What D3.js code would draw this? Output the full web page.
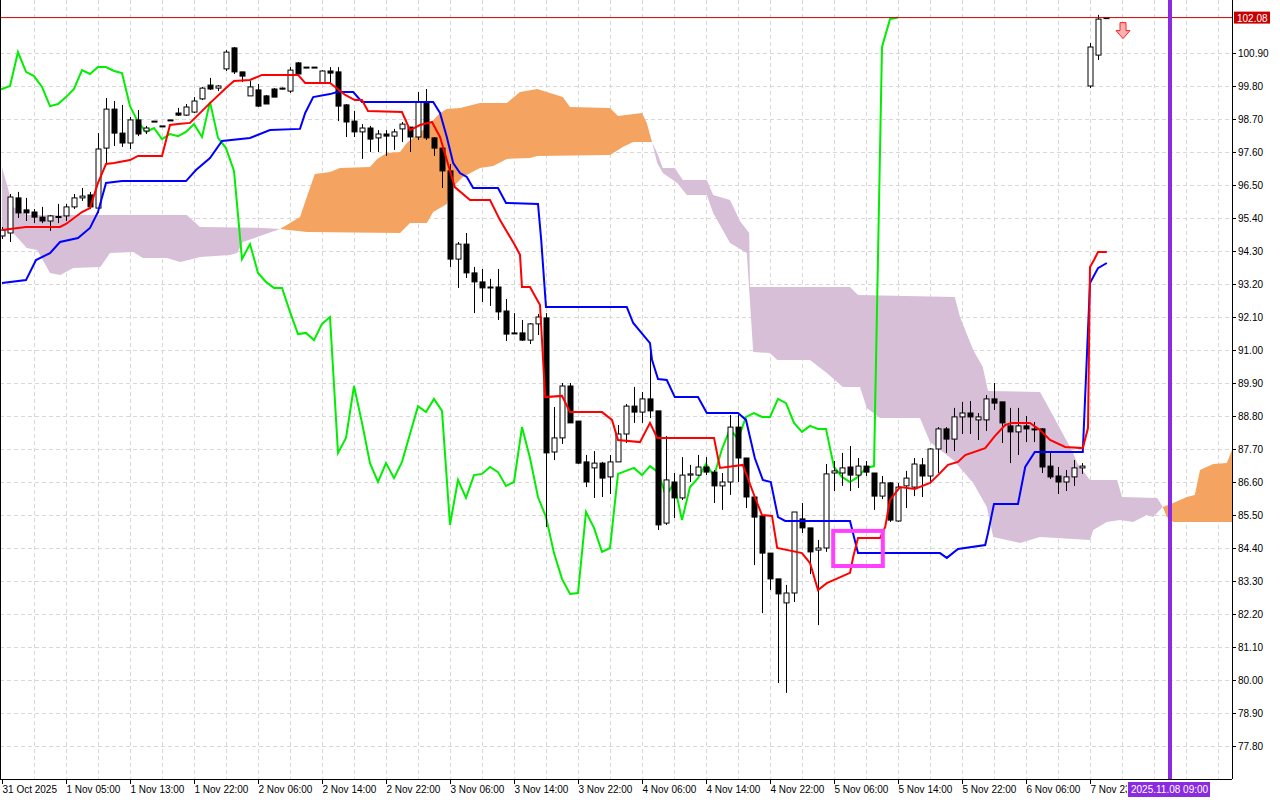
<!DOCTYPE html>
<html>
<head>
<meta charset="utf-8">
<script src="https://cdn.jsdelivr.net/npm/d3@7"></script>
<style>
body { margin: 0; background: #fff; }
svg { display: block; font-family: "Liberation Sans", sans-serif; font-size: 10px; }
</style>
</head>
<body>
<svg id="chart" width="1280" height="800"></svg>
<script>
// candles, bar index 0..138
var opens = [94.8,94.9,96.07,95.67,95.6,95.43,95.3,95.45,95.47,95.77,96.07,96.17,95.73,97.73,99.03,98.23,97.9,98.67,98.3,98.63,98.47,98.67,98.9,98.83,98.93,99.37,99.83,99.73,100.37,101.07,100.27,99.47,99.67,99.47,99.7,99.73,99.63,100.57,100.43,100.43,99.9,100.3,100.27,99.17,98.63,98.27,98.4,98.07,98.2,98.13,98.37,98.43,98.1,99.27,98.07,97.73,96.97,94.03,94.53,93.57,93.27,93.1,93.1,92.3,91.57,91.57,91.33,91.87,92.07,87.6,88.07,89.8,88.63,87.27,87.07,87.23,86.77,87.27,88.2,89.13,88.93,89.37,88.97,85.23,86.6,86.07,86.83,86.83,87.1,86.93,86.47,86.6,88.43,87.4,86.1,85.47,84.23,83.37,82.57,82.9,85.37,85.07,84.33,84.4,86.9,86.9,87.1,86.83,87.13,86.9,86.13,86.57,85.3,86.47,86.43,87.17,86.8,87.7,88.37,88.03,88.77,88.9,88.67,88.67,89.37,89.27,88.47,88.27,88.47,88.37,88.37,87.13,86.8,86.6,86.77,87.07,99.8,100.83,102.05];
var highs = [95.1,96.2,96.27,96.07,95.7,95.77,95.5,95.87,95.87,96.2,96.4,96.27,98.23,99.4,99.3,99.17,98.77,99.0,98.47,98.63,98.47,98.67,99.07,99.2,99.43,99.77,100.07,99.83,101.0,101.1,100.27,99.97,99.87,99.5,99.73,99.75,100.43,100.6,100.43,100.43,100.33,100.43,100.43,99.2,98.97,98.53,98.47,98.33,98.33,98.37,98.6,98.43,99.6,99.7,98.1,97.9,97.2,94.6,94.9,93.77,93.7,93.37,93.7,92.7,92.23,92.0,91.9,92.2,92.23,89.1,89.9,89.9,88.63,87.5,87.63,87.27,87.5,88.5,89.2,89.77,89.6,91.07,88.97,88.13,86.9,87.43,87.17,87.5,87.43,87.0,86.9,88.83,88.83,87.4,86.17,85.47,84.23,83.37,83.17,85.6,85.9,85.07,84.67,87.2,87.3,87.57,87.8,87.4,87.3,86.9,86.8,86.6,86.57,86.97,87.4,87.4,87.73,88.43,88.43,89.07,89.27,89.3,88.9,89.5,89.9,89.27,89.07,89.07,88.8,88.6,88.4,87.57,87.1,87.0,87.33,87.23,101.23,102.17,102.1];
var lows = [94.7,94.6,95.4,95.3,95.23,95.23,94.97,95.23,95.3,95.7,95.97,95.7,95.57,97.23,97.8,97.77,97.7,98.13,98.2,98.63,98.47,98.67,98.8,98.8,98.9,99.33,99.67,99.63,100.3,100.2,99.93,99.47,99.1,99.2,99.43,99.68,99.57,100.17,100.43,100.43,99.87,99.9,98.63,98.1,98.1,97.37,97.6,97.6,97.47,97.67,97.93,97.6,98.0,98.0,97.47,96.4,93.77,93.07,93.4,92.23,92.6,92.47,92.0,91.3,91.53,91.3,91.2,91.5,85.1,87.33,87.87,88.57,87.2,86.43,86.07,86.1,86.2,87.27,87.9,88.57,88.57,88.73,85.0,85.17,85.4,86.0,86.6,86.8,86.83,85.9,85.67,86.17,86.6,85.73,83.83,82.23,83.0,79.9,79.57,82.6,84.9,83.53,81.83,84.27,86.3,86.47,86.3,86.4,86.8,85.67,86.03,85.27,85.27,85.73,86.13,86.1,86.6,86.9,87.57,87.63,88.2,88.2,88.0,88.3,89.0,87.9,87.23,87.5,87.93,87.93,86.9,86.7,86.2,86.3,86.47,86.87,99.73,100.67,102.03];
var closes = [95.0,96.1,95.57,95.57,95.43,95.3,95.47,95.45,95.77,96.07,96.13,95.77,97.7,99.03,98.23,97.9,98.67,98.2,98.4,98.63,98.47,98.67,98.83,99.1,99.3,99.73,99.7,99.8,100.93,100.27,100.13,99.77,99.13,99.2,99.43,99.7,100.33,100.2,100.43,100.43,100.3,100.23,99.13,98.6,98.27,98.4,98.03,98.2,98.13,98.27,98.53,98.1,99.27,98.07,97.73,96.97,94.03,94.53,93.57,93.27,93.07,93.07,92.27,91.53,91.57,91.33,91.87,92.1,87.57,88.07,89.8,88.57,87.23,86.6,87.23,86.73,87.27,88.2,89.13,88.93,89.37,88.97,85.17,86.67,86.07,86.83,86.87,87.1,86.93,86.47,86.6,88.43,87.4,86.1,85.43,84.23,83.37,82.87,82.9,85.6,85.07,84.27,84.4,86.87,86.97,87.07,86.83,87.13,86.93,86.13,86.57,85.33,86.43,86.73,87.2,86.8,87.7,88.37,88.03,88.77,88.9,88.77,88.77,89.37,89.23,88.57,88.27,88.47,88.37,88.37,87.1,86.77,86.6,86.77,87.07,87.13,101.1,102.03,102.08];

// Tenkan-sen [bar, price]
var tenkan = [[0,95.0],[3,95.1],[7.25,95.1],[8,95.2],[10,95.6],[11,95.73],[12,96.57],[13,97.2],[14,97.23],[16,97.33],[17,97.47],[20,97.47],[21,98.5],[22,98.53],[23.5,98.57],[26,99.23],[28,99.73],[29,99.97],[31,100.0],[32.5,100.17],[37,100.17],[37.9,99.9],[41,99.9],[42.9,99.5],[44.1,99.33],[45,99.33],[45.75,98.97],[50,98.93],[51,98.33],[52.25,98.5],[53.75,98.6],[54.75,98.1],[56.6,96.43],[58.5,96.0],[61,96.0],[62.25,95.33],[64.1,94.5],[64.75,94.17],[65,93.1],[66,93.1],[67.25,92.5],[67.9,89.43],[70,89.47],[71,88.93],[75,88.93],[76.25,88.67],[77,88.0],[79.75,87.93],[81,88.57],[81.9,88.07],[89,88.07],[89.75,87.07],[92.6,87.17],[94.1,86.1],[95,85.5],[96.25,85.47],[96.9,84.4],[100,84.23],[101,83.9],[102,83.0],[103.1,83.23],[106,83.57],[106.4,84.1],[107,84.73],[109.75,84.73],[110.4,85.1],[111,86.0],[112.25,86.43],[114.1,86.37],[116,86.57],[117,86.83],[118.25,87.17],[119.5,87.27],[120.4,87.5],[122.9,87.73],[124.1,88.13],[125.4,88.5],[126.25,88.57],[128.5,88.57],[129.75,88.33],[131,88.0],[132.9,87.77],[135.1,87.73],[135.75,88.4],[136,93.77],[136.5,94.0],[137,94.27],[138.1,94.27]];
// Kijun-sen [bar, price]
var kijun = [[0,93.23],[3,93.33],[4.25,94.0],[6,94.23],[7.25,94.6],[9.5,94.73],[11,95.07],[12,95.6],[13,96.57],[15,96.63],[23,96.63],[24.25,97.0],[26,97.4],[27.5,97.97],[31,98.07],[33.5,98.33],[37.25,98.37],[37.9,98.9],[38.9,99.43],[41,99.53],[41.9,99.6],[43.9,99.6],[45,99.27],[53.9,99.27],[54.75,98.9],[55.6,98.1],[56.4,97.23],[57.25,96.9],[58.1,96.77],[58.9,96.4],[62,96.4],[63,95.9],[67,95.87],[67.4,94.67],[68,92.43],[78.1,92.43],[78.9,91.9],[81,91.23],[81.25,90.67],[82,90.03],[83.1,90.0],[84.1,89.43],[87,89.43],[88.1,88.9],[92,88.9],[93,88.67],[94.1,87.4],[95.1,86.67],[96.1,86.6],[97,85.43],[97.9,85.3],[106,85.3],[107,84.23],[117.25,84.23],[118.1,84.07],[119.5,84.37],[122.9,84.5],[123.25,84.9],[124,85.87],[127,85.87],[127.9,87.1],[129.1,87.6],[135.1,87.6],[136,93.23],[137,93.73],[138.1,93.9]];
// Senkou span A / B (already shifted forward)
var spanA = [[0,95.0],[1.4,94.9],[3.1,94.4],[4.4,94.33],[6,93.57],[7.3,93.5],[8.9,93.73],[12.3,93.77],[13.5,94.23],[16.4,94.27],[17.6,94.07],[20.6,94.07],[22.3,93.93],[24.8,94.1],[28.5,94.17],[29.4,94.23],[30.1,94.6],[32.6,94.83],[34.75,95.03],[37.25,95.43],[38.1,96.1],[39.1,96.87],[41,96.93],[42.25,97.07],[46,97.1],[46.9,97.37],[48.1,97.57],[49.75,97.6],[50.6,97.9],[53.1,98.43],[54.75,98.9],[55.6,99.03],[57.25,99.07],[59.75,99.23],[63.1,99.23],[64.75,99.6],[66.9,99.7],[68.5,99.57],[70.1,99.43],[71,99.1],[76,99.07],[77,98.8],[80,98.9],[80.6,98.57],[81.25,97.93],[81.9,97.23],[82.6,96.9],[84.4,96.57],[85.6,96.17],[88.1,96.17],[88.9,95.57],[91,94.57],[93.1,94.23],[93.9,90.93],[96,90.9],[96.9,90.67],[101,90.67],[103.1,90.23],[105.1,89.77],[107.25,89.77],[108.1,89.07],[109.75,88.73],[114.75,88.73],[116,87.93],[118.9,87.33],[121.4,86.57],[123.1,85.77],[123.9,84.77],[127.25,84.57],[129.75,84.77],[136,84.67],[136.4,85.0],[138.1,85.27],[139.75,85.33],[141.4,85.27],[143.1,85.5],[143.9,85.43],[145.1,85.77],[146.4,85.9],[148.1,86.1],[149.1,86.17],[149.75,87.0],[151.4,87.2],[153.1,87.23],[153.75,87.67],[156,87.67]];
var spanB = [[0,97.1],[1.4,95.77],[3.1,95.5],[23.1,95.5],[24.75,95.1],[32.6,95.07],[34.75,95.03],[38.1,94.93],[49.75,94.9],[51,95.23],[53.1,95.23],[53.9,95.6],[55.6,95.87],[56,96.33],[57.6,96.77],[59.75,97.07],[61.4,97.13],[63.1,97.37],[66,97.4],[66.9,97.47],[76,97.5],[77.6,97.77],[78.9,97.93],[81.25,97.93],[81.9,97.57],[82.6,97.07],[84.1,97.07],[85.1,96.67],[88.1,96.67],[88.9,96.17],[91,96.0],[92.25,95.3],[93.4,94.9],[93.5,93.1],[106,93.1],[107,92.83],[119.1,92.77],[119.75,92.1],[121.4,91.0],[122.6,90.43],[123.25,89.63],[129.75,89.6],[131,89.0],[133.9,87.57],[134.4,87.23],[136,86.67],[139.4,86.67],[140,86.1],[144.4,86.07],[145.1,85.77],[145.6,85.43],[146.4,85.27],[156,85.27]];
// cloud sections between crossings: [from, to, A above B]
var cloudParts = [[0,34.75,false],[34.75,81.25,true],[81.25,145.1,false],[145.1,156,true]];

var yTicks = [100.90,99.80,98.70,97.60,96.50,95.40,94.30,93.20,92.10,91.00,89.90,88.80,87.70,86.60,85.50,84.40,83.30,82.20,81.10,80.00,78.90,77.80];
var xLabels = ["31 Oct 2025","1 Nov 05:00","1 Nov 13:00","1 Nov 22:00","2 Nov 06:00","2 Nov 14:00","2 Nov 22:00","3 Nov 06:00","3 Nov 14:00","3 Nov 22:00","4 Nov 06:00","4 Nov 14:00","4 Nov 22:00","5 Nov 06:00","5 Nov 14:00","5 Nov 22:00","6 Nov 06:00","7 Nov 23:00"];
var lastPrice = 102.08;
var markerBar = 146, markerLabel = "2025.11.08 09:00";
var boxBars = [103.9, 110.1], boxPrices = [84.97, 83.8];

var W = 1280, H = 800, plotR = 1232, plotB = 779;
var svg = d3.select('#chart');
var x = d3.scaleLinear().domain([0, 146]).range([2, 1170]);
var y = d3.scaleLinear().domain([77.8, 100.9]).range([746, 53]);
var mx = x(markerBar);

svg.append('clipPath').attr('id', 'clip').append('rect').attr('x', 1).attr('y', 0).attr('width', plotR - 1).attr('height', plotB);
svg.append('clipPath').attr('id', 'lblclip').append('rect').attr('x', 0).attr('y', plotB).attr('width', mx - 43).attr('height', 21);
var plot = svg.append('g').attr('clip-path', 'url(#clip)');

// grid
plot.selectAll('.hg').data(yTicks).enter().append('line')
    .attr('x1', 0).attr('x2', plotR).attr('y1', function (d) { return y(d) + 0.5; }).attr('y2', function (d) { return y(d) + 0.5; })
    .attr('stroke', '#d8d8d8').attr('stroke-dasharray', '4,3');
plot.selectAll('.vg').data(d3.range(4, 160, 4)).enter().append('line')
    .attr('y1', 0).attr('y2', plotB).attr('x1', function (d) { return Math.round(x(d)) + 0.5; }).attr('x2', function (d) { return Math.round(x(d)) + 0.5; })
    .attr('stroke', '#d8d8d8').attr('stroke-dasharray', '4,3');

// cloud
cloudParts.forEach(function (p) {
    var a = spanA.filter(function (d) { return d[0] >= p[0] && d[0] <= p[1]; });
    var b = spanB.filter(function (d) { return d[0] >= p[0] && d[0] <= p[1]; }).reverse();
    var pts = a.concat(b).map(function (d) { return [x(d[0]), y(d[1])]; });
    plot.append('path').attr('d', d3.line()(pts) + 'Z')
        .attr('fill', p[2] ? '#f4a460' : '#d8bfd8');
});

var line = d3.line().x(function (d) { return x(d[0]); }).y(function (d) { return y(d[1]); });

// chikou = closes shifted back 26 bars
var chikou = closes.map(function (c, i) { return [i - 26, c]; }).filter(function (d) { return d[0] >= -1; });
plot.append('path').attr('d', line(chikou)).attr('fill', 'none').attr('stroke', '#00ee00').attr('stroke-width', 2);

// candles
var bars = plot.selectAll('.c').data(closes).enter().append('g');
bars.append('line')
    .attr('x1', function (d, i) { return Math.round(x(i)) + 0.5; }).attr('x2', function (d, i) { return Math.round(x(i)) + 0.5; })
    .attr('y1', function (d, i) { return y(highs[i]); }).attr('y2', function (d, i) { return y(lows[i]); })
    .attr('stroke', '#000');
bars.append('rect')
    .attr('x', function (d, i) { return Math.round(x(i)) - 2; })
    .attr('width', 5)
    .attr('y', function (d, i) { return y(Math.max(d, opens[i])); })
    .attr('height', function (d, i) { return Math.max(1, Math.abs(y(d) - y(opens[i]))); })
    .attr('fill', function (d, i) { return d >= opens[i] ? '#fff' : '#000'; })
    .attr('stroke', '#000');

plot.append('path').attr('d', line(kijun)).attr('fill', 'none').attr('stroke', '#0000ff').attr('stroke-width', 2);
plot.append('path').attr('d', line(tenkan)).attr('fill', 'none').attr('stroke', '#ff0000').attr('stroke-width', 2);

// box annotation
plot.append('rect').attr('x', x(boxBars[0])).attr('y', y(boxPrices[0]))
    .attr('width', x(boxBars[1]) - x(boxBars[0])).attr('height', y(boxPrices[1]) - y(boxPrices[0]))
    .attr('fill', 'none').attr('stroke', '#ff40ff').attr('stroke-width', 4);

// last price line
plot.append('line').attr('x1', 0).attr('x2', plotR).attr('y1', y(lastPrice)).attr('y2', y(lastPrice)).attr('stroke', '#d00000');

// sell arrow
var ax = x(140) + 1, ay = y(lastPrice) + 5;
plot.append('path')
    .attr('d', 'M' + (ax - 3) + ',' + ay + 'h6v8h4l-7,8l-7,-8h4z')
    .attr('fill', '#ffb0b0').attr('stroke', '#ff2020').attr('stroke-width', 1);

// marker vertical line
plot.append('line').attr('x1', mx).attr('x2', mx).attr('y1', 0).attr('y2', plotB)
    .attr('stroke', '#8a2be2').attr('stroke-width', 4);

// frame
svg.append('line').attr('x1', 0.5).attr('x2', 0.5).attr('y1', 0).attr('y2', plotB).attr('stroke', '#000');
svg.append('line').attr('x1', 0).attr('x2', plotR).attr('y1', plotB + 0.5).attr('y2', plotB + 0.5).attr('stroke', '#000');
svg.append('line').attr('x1', plotR + 0.5).attr('x2', plotR + 0.5).attr('y1', 0).attr('y2', plotB).attr('stroke', '#000');

// right axis
var ya = svg.append('g');
yTicks.forEach(function (t) {
    ya.append('line').attr('x1', plotR).attr('x2', plotR + 4).attr('y1', y(t) + 0.5).attr('y2', y(t) + 0.5).attr('stroke', '#000');
    ya.append('text').attr('x', plotR + 6).attr('y', y(t) + 4).text(t.toFixed(2));
});
ya.append('rect').attr('x', plotR + 2).attr('y', y(lastPrice) - 6).attr('width', 36).attr('height', 12).attr('fill', '#c80000');
ya.append('text').attr('x', plotR + 5).attr('y', y(lastPrice) + 4).attr('fill', '#fff').text(lastPrice.toFixed(2));

// bottom axis
var xa = svg.append('g');
var xl = xa.append('g').attr('clip-path', 'url(#lblclip)');
xLabels.forEach(function (l, k) {
    var px = Math.round(x(k * 8)) + 0.5;
    xa.append('line').attr('x1', px).attr('x2', px).attr('y1', plotB).attr('y2', plotB + 5).attr('stroke', '#000');
    xl.append('text').attr('x', px).attr('y', 793).text(l);
});
xa.append('rect').attr('x', mx - 42).attr('y', 782).attr('width', 82).attr('height', 15).attr('fill', '#8a2be2');
xa.append('text').attr('x', mx - 39).attr('y', 793).attr('fill', '#fff').text(markerLabel);
</script>
</body>
</html>
